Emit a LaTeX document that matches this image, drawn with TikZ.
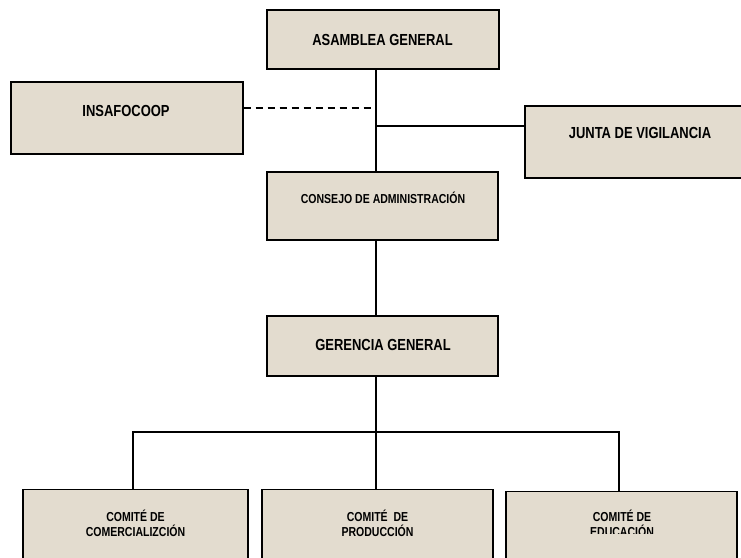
\documentclass[tikz,border=0pt]{standalone}
\usepackage{fontspec}
\setmainfont[FakeStretch=0.81]{Liberation Sans}
\definecolor{boxfill}{RGB}{227,220,207}
\begin{document}
\begin{tikzpicture}[x=1pt,y=-1pt,
  box/.style={draw=black, line width=1.3pt, fill=boxfill, inner sep=0pt},
  lbl/.style={font=\fontsize{16}{18}\selectfont\bfseries, inner sep=0pt, anchor=base},
  slbl/.style={font=\fontsize{13}{15}\selectfont\bfseries, inner sep=0pt, anchor=base},
  clbl/.style={font=\fontsize{13}{15}\selectfont\bfseries, inner sep=0pt, align=center, anchor=center},
  conn/.style={draw=black, line width=1.4pt},
  dashconn/.style={draw=black, line width=1.4pt, dash pattern=on 7pt off 5pt}]
\useasboundingbox (0,0) rectangle (741,557);
\clip (0,0) rectangle (741,557);
% boxes
\node[box, minimum width=232pt, minimum height=59pt] (asamblea) at (383,39.5) {};
\node[box, minimum width=232pt, minimum height=72pt] (insafocoop) at (127,118) {};
\node[box, minimum width=231pt, minimum height=72pt] (junta) at (640.5,142) {};
\node[box, minimum width=231pt, minimum height=68pt] (consejo) at (382.5,206) {};
\node[box, minimum width=231pt, minimum height=60pt] (gerencia) at (382.5,346) {};
\node[box, minimum width=225pt, minimum height=120pt, anchor=north] (com1) at (135.5,489) {};
\node[box, minimum width=231pt, minimum height=120pt, anchor=north] (com2) at (377.5,489) {};
\node[box, minimum width=231pt, minimum height=120pt, anchor=north] (com3) at (621.5,491) {};
% texts
\node[lbl] (tasamblea) at (382.5,45) {ASAMBLEA GENERAL};
\node[lbl] (tinsafocoop) at (126,116) {INSAFOCOOP};
\node[lbl] (tjunta) at (640,138) {JUNTA DE VIGILANCIA};
\node[slbl] (tconsejo) at (383,203.5) {CONSEJO DE ADMINISTRACIÓN};
\node[lbl] (tgerencia) at (383,350) {GERENCIA GENERAL};
\node[clbl] (tcom1) at (135.5,523) {COMITÉ DE\\COMERCIALIZCIÓN};
\node[clbl] (tcom2) at (377.5,523) {COMITÉ~ DE\\PRODUCCIÓN};
\begin{scope}
\clip (507,495) rectangle (736,533.5);
\node[clbl] (tcom3) at (622,523) {COMITÉ DE\\EDUCACIÓN};
\end{scope}
% connectors
\coordinate (j1) at (asamblea.south -| 376,0);
\coordinate (jd) at (376,108);
\coordinate (jj) at (376,126);
\coordinate (bar) at (376,432);
\draw[conn] (376,69) -- (376,172);
\draw[dashconn] (insafocoop.east |- jd) -- (jd);
\draw[conn] (jj) -- (junta.west |- jj);
\draw[conn] (consejo.south -| 376,0) -- (gerencia.north -| 376,0);
\draw[conn] (gerencia.south -| 376,0) -- (bar);
\draw[conn] (133,489) -- (133,432) -- (619,432) -- (619,491);
\draw[conn] (bar) -- (376,489);
\end{tikzpicture}
\end{document}
